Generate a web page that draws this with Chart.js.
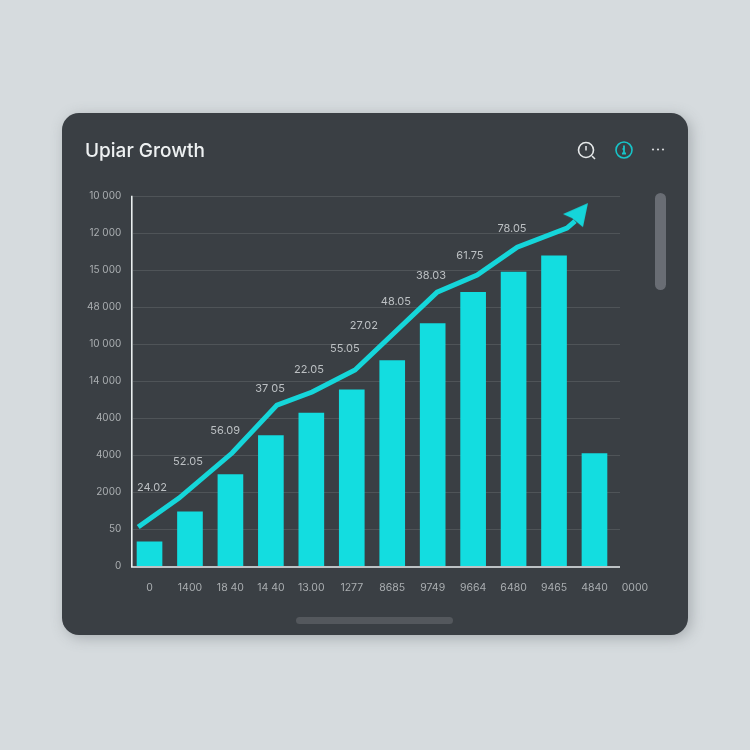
<!DOCTYPE html>
<html>
<head>
<meta charset="utf-8">
<script src="https://cdn.jsdelivr.net/npm/chart.js@4"></script>
<style>
html,body{margin:0;padding:0;width:750px;height:750px;overflow:hidden;background:#d6dbde;}
#card{position:absolute;left:62px;top:113px;width:626px;height:522px;border-radius:17px;background:#3a3f44;box-shadow:3px 3px 14px rgba(110,118,122,.45);}
#wrap{position:absolute;left:0;top:0;width:750px;height:750px;}
#vbar{position:absolute;left:654.5px;top:193px;width:11px;height:97px;border-radius:5.5px;background:#696d74;}
#hbar{position:absolute;left:296px;top:617px;width:157px;height:7px;border-radius:3.5px;background:#54585d;}
svg{position:absolute;left:0;top:0;}
</style>
</head>
<body>
<div id="card"></div>
<div id="vbar"></div>
<div id="hbar"></div>
<svg width="750" height="750" fill="none">
  <circle cx="586" cy="150" r="7.5" stroke="#e6e9ea" stroke-width="1.6"/>
  <path d="M586 146v4.5M592 156l3 3" stroke="#e6e9ea" stroke-width="1.5"/>
  <circle cx="624" cy="150" r="8" stroke="#17c4c8" stroke-width="1.6"/>
  <path d="M624 145.5v9M622 153.5h4M622.6 149h2" stroke="#17c4c8" stroke-width="1.8"/>
  <circle cx="653" cy="149.5" r="1.1" fill="#d5d8da"/>
  <circle cx="658" cy="149.5" r="1.1" fill="#d5d8da"/>
  <circle cx="663" cy="149.5" r="1.1" fill="#d5d8da"/>
</svg>
<div id="wrap"><canvas id="c" width="750" height="750"></canvas></div>
<script>
const chartTitle = "Upiar Growth";
const xLabels = ["0","1400","18 40","14 40","13.00","1277","8685","9749","9664","6480","9465","4840","0000"];
const yLabels = ["0","50","2000","4000","4000","14 000","10 000","48 000","15 000","12 000","10 000"];
const barValues = [650,1460,2470,3520,4130,4760,5550,6550,7390,7940,8380,3040,null];
const lineX = [-0.28,0.73,2.04,3.15,4.02,5.08,7.11,8.10,9.09,10.32,10.52];
const lineY = [1053,1836,3051,4348,4698,5293,7399,7858,8614,9127,9316];
const arrowX = [10.59];
const arrowY = [9506];
const noteText = ["24.02","52.05","56.09","37 05","22.05","55.05","27.02","48.05","38.03","61.75","78.05"];
const noteX = [0.06,0.95,1.87,2.98,3.94,4.83,5.30,6.09,6.96,7.92,8.96];
const noteY = [2106,2808,3646,4780,5293,5860,6481,7129,7831,8372,9101];

const CYAN = "#13dde0";
const LINE = "#15d6da";

const arrowImg = document.createElement("canvas");
arrowImg.width = 30; arrowImg.height = 30;
(function(){
  const g = arrowImg.getContext("2d");
  g.fillStyle = LINE;
  g.beginPath();
  g.moveTo(25,4); g.lineTo(0,15); g.lineTo(9,19); g.lineTo(20,28);
  g.closePath(); g.fill();
})();

const zip = (xs, ys) => xs.map((x, i) => ({x, y: ys[i]}));

const decor = {
  id: "decor",
  beforeDatasetsDraw(chart) {
    const {ctx, scales:{y}} = chart;
    ctx.save();
    ctx.strokeStyle = "#4f5458";
    ctx.lineWidth = 1;
    y.ticks.forEach(t => {
      if (t.value === 0) return;
      const p = Math.round(y.getPixelForValue(t.value)) + 0.5;
      ctx.beginPath(); ctx.moveTo(133, p); ctx.lineTo(620, p); ctx.stroke();
    });
    ctx.restore();
  },
  afterDatasetsDraw(chart) {
    const {ctx, scales:{y, x2}} = chart;
    ctx.save();
    ctx.strokeStyle = "#e9eeef";
    ctx.lineWidth = 1.6;
    const b = y.getPixelForValue(0);
    ctx.beginPath();
    ctx.moveTo(131.8, y.getPixelForValue(10000));
    ctx.lineTo(131.8, b + 1);
    ctx.lineTo(620, b + 1);
    ctx.stroke();
    ctx.fillStyle = "#bcc0c3";
    ctx.font = "11px Inter";
    ctx.textAlign = "center";
    ctx.textBaseline = "middle";
    noteText.forEach((s, i) => ctx.fillText(s, x2.getPixelForValue(noteX[i]), y.getPixelForValue(noteY[i])));
    ctx.restore();
  }
};

new Chart(document.getElementById("c"), {
  data: {
    labels: xLabels,
    datasets: [
      {type:"bar", label:"Bars", data:barValues, backgroundColor:CYAN, grouped:false, barPercentage:1, categoryPercentage:1, maxBarThickness:25, xAxisID:"x", yAxisID:"y", order:2},
      {type:"line", label:"Trend", data:zip(lineX,lineY), borderColor:LINE, borderWidth:5, tension:0, pointRadius:0, fill:false, xAxisID:"x2", yAxisID:"y", order:1, clip:false},
      {type:"scatter", label:"Arrow", data:zip(arrowX,arrowY), pointStyle:arrowImg, pointRadius:15, xAxisID:"x2", yAxisID:"y", order:0, clip:false}
    ]
  },
  options: {
    responsive:false,
    animation:false,
    layout:{padding:{left:85,right:94.85,top:140,bottom:0}},
    plugins:{
      legend:{display:false},
      tooltip:{enabled:false},
      title:{display:true,text:chartTitle,align:"start",color:"#eef1f2",font:{family:"Inter",size:19,weight:"500"},padding:{top:0,bottom:33}}
    },
    scales:{
      x:{
        type:"category",
        grid:{display:false,drawTicks:false},
        border:{display:false},
        ticks:{color:"#aaaeb1",font:{family:"Inter",size:10.5},padding:16,autoSkip:false,maxRotation:0,minRotation:0},
        afterFit(s){s.height=184;}
      },
      x2:{type:"linear",display:false,min:-0.5,max:12.5},
      y:{
        type:"linear",min:0,max:10000,
        grid:{display:false,drawTicks:false},
        border:{display:false},
        ticks:{stepSize:1000,color:"#aaaeb1",font:{family:"Inter",size:10},padding:8,callback:(v)=>yLabels[Math.round(v/1000)]},
        afterFit(s){s.width=44.3;}
      }
    }
  },
  plugins:[decor]
});
</script>
</body>
</html>
